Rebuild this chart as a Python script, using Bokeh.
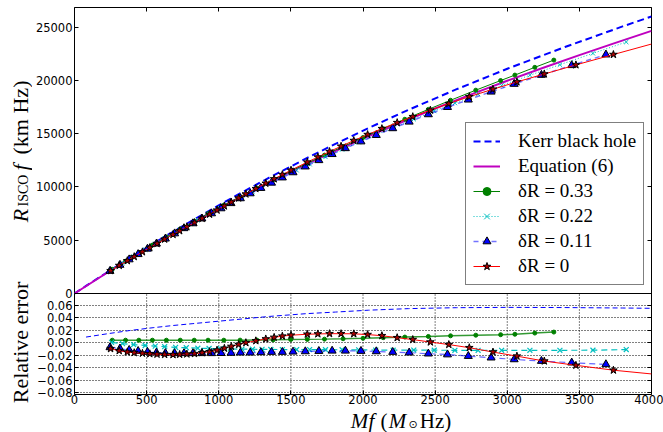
from math import pi
from bokeh.plotting import figure
from bokeh.layouts import row, column
from bokeh.models import (Range1d, LinearAxis, FixedTicker, Legend, LegendItem,
                          Label, Span, Grid)
from bokeh.embed import file_html
from bokeh.resources import INLINE

# ---------------- data ----------------
x_ticks = [0, 500, 1000, 1500, 2000, 2500, 3000, 3500, 4000]
top_ticks = [0, 5000, 10000, 15000, 20000, 25000]
top_tick_labels = ["0", "5000", "10000", "15000", "20000", "25000"]
err_ticks = [-0.08, -0.06, -0.04, -0.02, 0.0, 0.02, 0.04, 0.06]
err_tick_labels = ["\u22120.08", "\u22120.06", "\u22120.04", "\u22120.02",
                   "0.00", "0.02", "0.04", "0.06"]

# Equation (6)
eq6_x = [0, 250, 500, 750, 1000, 1250, 1500, 1750, 2000, 2250, 2500, 2750,
         3000, 3250, 3500, 3750, 4000]
eq6_y = [0, 2159, 4209, 6155, 8005, 9762, 11434, 13025, 14540, 15987, 17370,
         18696, 19969, 21195, 22381, 23531, 24651]

# Kerr black hole
kerr_x = [0, 80, 234, 384, 545, 683, 821, 936, 1120, 1350, 1610, 1809, 2039,
          2315, 2650, 3005, 3400, 3800, 4000]
kerr_y = [0, 709, 2053, 3334, 4676, 5798, 6894, 7789, 9184, 10877, 12704,
          14044, 15538, 17243, 19182, 21123, 23137, 25075, 26007]
kerr_err_x = [80, 234, 384, 545, 683, 821, 936, 1120, 1350, 1610, 1809, 2039,
              2315, 2650, 3005, 3400, 3800, 4000]
kerr_err = [0.009, 0.0145, 0.0195, 0.024, 0.0275, 0.0305, 0.033, 0.037, 0.042,
            0.0465, 0.049, 0.052, 0.0545, 0.056, 0.0565, 0.0562, 0.0555, 0.055]

# dR = 0.33
g_x = [262, 354, 446, 540, 637, 733, 830, 926, 1035, 1148, 1264, 1377, 1499,
       1614, 1733, 1862, 2000, 2140, 2290, 2453, 2607, 2782, 2954, 3053, 3191, 3323]
g_top = [2269, 3036, 3790, 4545, 5308, 6051, 6784, 7496, 8289, 9092, 9900,
         10669, 11484, 12233, 12993, 13797, 14642, 15476, 16358, 17285, 18142,
         19088, 19991, 20505, 21231, 21911]
g_err = [0.0040, 0.0040, 0.0040, 0.0040, 0.0040, 0.0040, 0.0040, 0.0040, 0.0040,
         0.0041, 0.0042, 0.0045, 0.0050, 0.0053, 0.0057, 0.0063, 0.0070, 0.0080,
         0.0090, 0.0100, 0.0110, 0.0120, 0.0128, 0.0135, 0.0154, 0.0170]

# dR = 0.22
c_x = [257, 333, 410, 490, 560, 625, 701, 775, 855, 933, 1011, 1080, 1161, 1234,
       1300, 1361, 1441, 1540, 1630, 1740, 1855, 1970, 2088, 2209, 2352, 2494,
       2637, 2798, 2961, 3157, 3365, 3594, 3825]
c_top = [2219, 2847, 3472, 4110, 4659, 5162, 5738, 6294, 6881, 7448, 8006, 8490,
         9052, 9551, 9995, 10401, 10925, 11564, 12134, 12817, 13514, 14197, 14879,
         15565, 16362, 17130, 17878, 18713, 19532, 20491, 21480, 22543, 23607]
c_err = [0.0005, -0.0015, -0.0030, -0.0045, -0.0055, -0.0064, -0.0075, -0.0080,
         -0.0088, -0.0093, -0.0097, -0.0100, -0.0103, -0.0105, -0.0107, -0.0108,
         -0.0110, -0.0110, -0.0110, -0.0112, -0.0113, -0.0115, -0.0118, -0.0120,
         -0.0118, -0.0120, -0.0122, -0.0122, -0.0122, -0.0122, -0.0122, -0.0120,
         -0.0110]

# dR = 0.11
b_x = [246, 315, 379, 441, 506, 568, 630, 694, 759, 821, 883, 950, 1016, 1085,
       1150, 1218, 1292, 1366, 1441, 1515, 1600, 1694, 1786, 1878, 1986, 2092,
       2206, 2320, 2453, 2586, 2730, 2888, 3048, 3237, 3447, 3684]
b_top = [2109, 2676, 3191, 3684, 4193, 4672, 5144, 5630, 6118, 6576, 7028, 7512,
         7984, 8469, 8925, 9390, 9893, 10389, 10881, 11364, 11910, 12504, 13075,
         13628, 14264, 14868, 15501, 16118, 16813, 17493, 18192, 18938, 19666,
         20511, 21424, 22423]
b_err = [-0.0075, -0.0095, -0.0118, -0.0135, -0.0150, -0.0160, -0.0168, -0.0170,
         -0.0170, -0.0170, -0.0170, -0.0170, -0.0168, -0.0165, -0.0160, -0.0160,
         -0.0155, -0.0150, -0.0150, -0.0145, -0.0140, -0.0135, -0.0130, -0.0130,
         -0.0134, -0.0140, -0.0150, -0.0160, -0.0176, -0.0190, -0.0215, -0.0240,
         -0.0268, -0.0294, -0.0320, -0.0347]

# dR = 0
r_x = [250, 310, 366, 414, 471, 522, 572, 625, 683, 729, 779, 832, 885, 936, 988,
       1039, 1087, 1138, 1188, 1257, 1326, 1384, 1441, 1501, 1614, 1687, 1768,
       1848, 1936, 2032, 2131, 2237, 2345, 2467, 2595, 2737, 2901, 3067, 3257,
       3476, 3736]
r_top = [2138, 2626, 3076, 3459, 3909, 4306, 4691, 5096, 5535, 5883, 6259, 6653,
         7049, 7431, 7823, 8210, 8574, 8959, 9335, 9840, 10341, 10759, 11163,
         11577, 12333, 12807, 13325, 13822, 14360, 14921, 15478, 16041, 16602,
         17208, 17826, 18479, 19178, 19865, 20605, 21462, 22435]
r_err = [-0.0096, -0.0128, -0.0150, -0.0160, -0.0170, -0.0178, -0.0185, -0.0190,
         -0.0192, -0.0188, -0.0182, -0.0175, -0.0160, -0.0145, -0.0120, -0.0090,
         -0.0060, -0.0030, 0.0000, 0.0030, 0.0060, 0.0085, 0.0105, 0.0120, 0.0135,
         0.0140, 0.0144, 0.0144, 0.0142, 0.0130, 0.0112, 0.0080, 0.0050, 0.0010,
         -0.0030, -0.0080, -0.0150, -0.0215, -0.0294, -0.0362, -0.0440]
r_end_x = [4000]
r_end_top = [23419]
r_end_err = [-0.0500]

legend_labels = ["Kerr black hole", "Equation (6)", "\u03b4R = 0.33",
                 "\u03b4R = 0.22", "\u03b4R = 0.11", "\u03b4R = 0"]

# ---------------- layout constants ----------------
W, H = 663, 432
LEFT_W = 32            # strip holding the vertical axis titles
MAIN_H = 408
XLAB_H = H - MAIN_H
TOP_MAX = 26850
TOP_PX, BOT_PX = 286, 101
TOP_MIN = -TOP_MAX * BOT_PX / TOP_PX
ERR_MIN, ERR_TOP = -0.0829, 0.0787
ERR_MAX = ERR_TOP + (ERR_TOP - ERR_MIN) * TOP_PX / BOT_PX

SERIF = "Liberation Serif"
TICKFONT = "DejaVu Sans"

p = figure(width=W - LEFT_W, height=MAIN_H, x_range=Range1d(0, 4000),
           y_range=Range1d(TOP_MIN, TOP_MAX), output_backend="svg",
           toolbar_location=None, x_axis_type=None, y_axis_type=None,
           min_border_left=39, min_border_right=12, min_border_top=7,
           min_border_bottom=14)
p.extra_y_ranges = {"err": Range1d(ERR_MIN, ERR_MAX)}
p.outline_line_color = "black"
p.outline_line_width = 1
p.background_fill_color = "white"
p.border_fill_color = "white"


def err_to_main(e):
    # position of an error-axis tick on the main (top-panel) scale
    return round(TOP_MIN + (e - ERR_MIN) * (0 - TOP_MIN) / (ERR_TOP - ERR_MIN), 3)


y_all = list(top_ticks) + [err_to_main(e) for e in err_ticks]
overrides = {}
for t, lab_ in zip(top_ticks, top_tick_labels):
    overrides[t] = lab_
for e, lab_ in zip(err_ticks, err_tick_labels):
    overrides[err_to_main(e)] = lab_


def style_axis(ax, labels=True):
    ax.major_tick_in = 4
    ax.major_tick_out = 0
    ax.minor_tick_line_color = None
    ax.axis_line_color = None
    ax.major_tick_line_color = "black"
    ax.major_label_text_font = TICKFONT
    if labels:
        ax.major_label_text_color = "black"
        ax.major_label_text_font_size = "11.5px"
        ax.major_label_standoff = 2
    else:
        ax.major_label_text_color = None
        ax.major_label_text_font_size = "0px"
        ax.major_label_standoff = 0


xb = LinearAxis(ticker=FixedTicker(ticks=x_ticks))
style_axis(xb)
xb.major_label_standoff = 0
p.add_layout(xb, "below")
xt = LinearAxis(ticker=FixedTicker(ticks=x_ticks))
style_axis(xt, labels=False)
p.add_layout(xt, "above")
yl = LinearAxis(ticker=FixedTicker(ticks=y_all), major_label_overrides=overrides)
style_axis(yl)
yl.major_label_standoff = 2
p.add_layout(yl, "left")
yr = LinearAxis(ticker=FixedTicker(ticks=y_all))
style_axis(yr, labels=False)
p.add_layout(yr, "right")

# bottom panel grid (dotted)
hg = Grid(dimension=1, y_range_name="err", ticker=FixedTicker(ticks=err_ticks),
          grid_line_color="black", grid_line_dash="1 2", grid_line_width=1)
p.add_layout(hg)
vx = x_ticks[1:-1]
p.segment(x0=vx, y0=[ERR_MIN] * len(vx), x1=vx, y1=[ERR_TOP] * len(vx),
          y_range_name="err", line_color="black", line_dash="1 2", line_width=1)
p.add_layout(Span(location=0, dimension="width", line_color="black", line_width=1))

BLUE, MAG, GREEN, CYAN, RED = "#0000ff", "#bf00bf", "#008000", "#00bfbf", "#ff0000"

# ---------------- top panel ----------------
k_r = p.line(kerr_x, kerr_y, line_color=BLUE, line_width=2, line_dash="7 4")
e_r = p.line(eq6_x, eq6_y, line_color=MAG, line_width=2)
g_l = p.line(g_x, g_top, line_color=GREEN, line_width=1)
g_p = p.scatter(g_x, g_top, marker="circle", size=4, fill_color=GREEN, line_color=GREEN)
c_l = p.line(c_x, c_top, line_color=CYAN, line_width=1, line_dash="1 2")
c_p = p.scatter(c_x, c_top, marker="x", size=6, line_color=CYAN, line_width=1)
b_l = p.line(b_x, b_top, line_color=BLUE, line_width=1.5, line_dash="5 4", line_alpha=0.55)
b_p = p.scatter(b_x, b_top, marker="triangle", size=8, fill_color=BLUE,
                line_color="black", line_width=1)
r_l = p.line(r_x + r_end_x, r_top + r_end_top, line_color=RED, line_width=1)
r_p = p.scatter(r_x, r_top, marker="star", size=8, fill_color="#aa0000",
                line_color="black", line_width=1)

# ---------------- bottom panel ----------------
p.line(kerr_err_x, kerr_err, y_range_name="err", line_color=BLUE, line_width=1, line_dash="5 3")
p.line(g_x, g_err, y_range_name="err", line_color=GREEN, line_width=1.5, line_alpha=0.8)
p.scatter(g_x, g_err, y_range_name="err", marker="circle", size=4, fill_color=GREEN, line_color=GREEN)
p.line(c_x, c_err, y_range_name="err", line_color=CYAN, line_width=1.2, line_dash="6 4")
p.scatter(c_x, c_err, y_range_name="err", marker="x", size=7, line_color=CYAN, line_width=1.2)
p.line(b_x, b_err, y_range_name="err", line_color=BLUE, line_width=1.2, line_dash="6 4", line_alpha=0.6)
p.scatter(b_x, b_err, y_range_name="err", marker="triangle", size=8, fill_color=BLUE,
          line_color="black", line_width=1)
p.line(r_x + r_end_x, r_err + r_end_err, y_range_name="err", line_color=RED, line_width=1)
p.scatter(r_x, r_err, y_range_name="err", marker="star", size=8, fill_color="#aa0000",
          line_color="black", line_width=1)

# ---------------- legend ----------------
items = [LegendItem(label=legend_labels[0], renderers=[k_r]),
         LegendItem(label=legend_labels[1], renderers=[e_r]),
         LegendItem(label=legend_labels[2], renderers=[g_l, g_p]),
         LegendItem(label=legend_labels[3], renderers=[c_l, c_p]),
         LegendItem(label=legend_labels[4], renderers=[b_l, b_p]),
         LegendItem(label=legend_labels[5], renderers=[r_l, r_p])]
leg = Legend(items=items, location=(391, 109), orientation="vertical")
leg.border_line_color = "black"
leg.border_line_width = 1
leg.background_fill_color = "white"
leg.background_fill_alpha = 1
leg.label_text_font = SERIF
leg.label_text_font_size = "19px"
leg.label_text_color = "black"
leg.glyph_width = 27
leg.glyph_height = 20
leg.label_height = 20
leg.label_standoff = 18
leg.spacing = 3
leg.padding = 7
leg.margin = 0
p.add_layout(leg)


# ---------------- axis titles (separate strips so nothing is clipped) ----------------
def strip(width, height):
    f = figure(width=width, height=height, x_range=Range1d(0, 1), y_range=Range1d(0, 1),
               x_axis_type=None, y_axis_type=None, toolbar_location=None,
               output_backend="svg", min_border=0)
    f.outline_line_color = None
    f.background_fill_color = "white"
    f.border_fill_color = "white"
    return f


def lab(fig, **kw):
    base = dict(text_font=SERIF, text_color="black", text_font_size="22px",
                x_units="screen", y_units="screen", text_align="center",
                text_baseline="middle")
    base.update(kw)
    fig.add_layout(Label(**base))


left = strip(LEFT_W, H)
# R_ISCO f (km Hz): centres in px measured from the strip's bottom-left
lab(left, x=19.5, y=H - 215, text="R", angle=pi / 2, text_font_style="italic")
lab(left, x=23, y=H - 190, text="ISCO", angle=pi / 2, text_font_size="14px")
lab(left, x=19.5, y=H - 167, text="f", angle=pi / 2, text_font_style="italic")
lab(left, x=19.5, y=H - 117, text="(km Hz)", angle=pi / 2)
# Relative error
lab(left, x=19.5, y=H - 342, text="Relative error", angle=pi / 2)

xlab = strip(W - LEFT_W, XLAB_H)
xo = LEFT_W
yc = 12
lab(xlab, x=317 - xo, y=yc, text="M", text_font_style="italic", text_font_size="21px")
lab(xlab, x=329 - xo, y=yc, text="f", text_font_style="italic", text_font_size="21px")
lab(xlab, x=341.5 - xo, y=yc, text="(", text_font_size="21px")
lab(xlab, x=355 - xo, y=yc, text="M", text_font_style="italic", text_font_size="21px")
lab(xlab, x=370.5 - xo, y=yc - 4, text="\u2299", text_font="DejaVu Sans",
    text_font_size="11px")
lab(xlab, x=393 - xo, y=yc, text="Hz)", text_font_size="21px")

layout = row(left, column(p, xlab, spacing=0), spacing=0)
open("out.html", "w").write(file_html(layout, INLINE))
